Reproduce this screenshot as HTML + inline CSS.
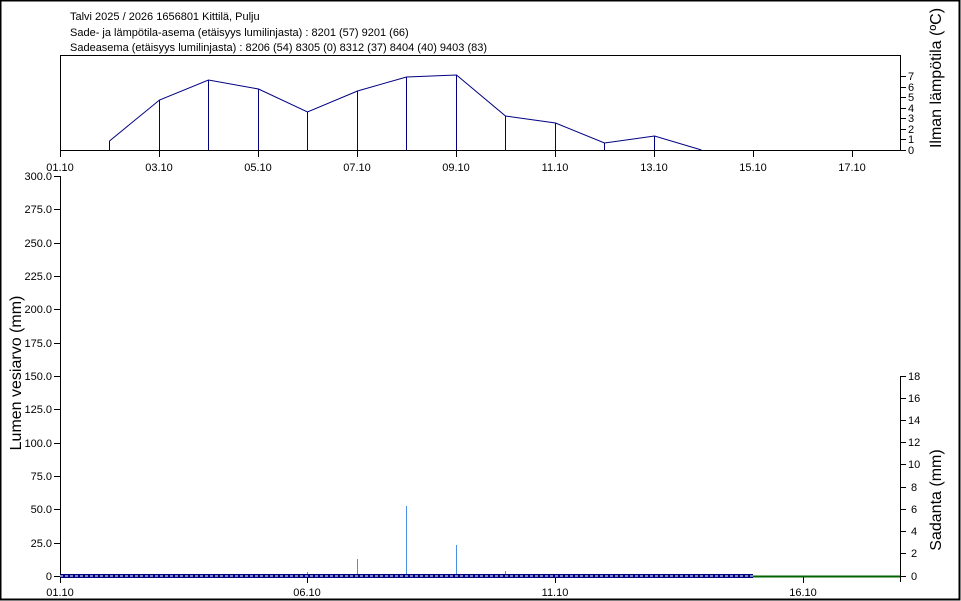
<!DOCTYPE html>
<html><head><meta charset="utf-8"><style>
html,body{margin:0;padding:0;background:#fff}
svg{display:block}
text{font-family:"Liberation Sans",sans-serif;fill:#000}
</style></head><body>
<svg width="961" height="601" viewBox="0 0 961 601" xmlns="http://www.w3.org/2000/svg">
<rect x="0.5" y="0.5" width="959" height="599" fill="#fff" stroke="#000" stroke-width="2"/>
<g font-size="11">
<text x="70" y="20">Talvi 2025 / 2026 1656801 Kittilä, Pulju</text>
<text x="70" y="36">Sade- ja lämpötila-asema (etäisyys lumilinjasta) :  8201 (57) 9201 (66)</text>
<text x="70" y="51">Sadeasema (etäisyys lumilinjasta) :  8206 (54) 8305 (0) 8312 (37) 8404 (40) 9403 (83)</text>
</g>
<!-- top chart -->
<path d="M60.5 150.5V55.5H900.5V150.5" fill="none" stroke="#000"/>
<line x1="60" y1="150.5" x2="906" y2="150.5" stroke="#000"/>
<g stroke="#000">
<line x1="60.5" y1="150" x2="60.5" y2="157"/><line x1="159.5" y1="150" x2="159.5" y2="157"/><line x1="258.5" y1="150" x2="258.5" y2="157"/><line x1="357.5" y1="150" x2="357.5" y2="157"/><line x1="456.5" y1="150" x2="456.5" y2="157"/><line x1="555.5" y1="150" x2="555.5" y2="157"/><line x1="654.5" y1="150" x2="654.5" y2="157"/><line x1="753.5" y1="150" x2="753.5" y2="157"/><line x1="852.5" y1="150" x2="852.5" y2="157"/>
</g>
<g font-size="11" text-anchor="middle">
<text x="60" y="171">01.10</text><text x="159" y="171">03.10</text><text x="258" y="171">05.10</text><text x="357" y="171">07.10</text><text x="456" y="171">09.10</text><text x="555" y="171">11.10</text><text x="654" y="171">13.10</text><text x="753" y="171">15.10</text><text x="852" y="171">17.10</text>
</g>
<g stroke="#000">
<line x1="900" y1="150.5" x2="906" y2="150.5"/><line x1="900" y1="139.5" x2="906" y2="139.5"/><line x1="900" y1="129.5" x2="906" y2="129.5"/><line x1="900" y1="118.5" x2="906" y2="118.5"/><line x1="900" y1="108.5" x2="906" y2="108.5"/><line x1="900" y1="97.5" x2="906" y2="97.5"/><line x1="900" y1="87.5" x2="906" y2="87.5"/><line x1="900" y1="76.5" x2="906" y2="76.5"/>
</g>
<g font-size="11">
<text x="908" y="154">0</text><text x="908" y="143">1</text><text x="908" y="133">2</text><text x="908" y="122">3</text><text x="908" y="112">4</text><text x="908" y="101">5</text><text x="908" y="91">6</text><text x="908" y="80">7</text>
</g>
<text transform="translate(941,78) rotate(-90)" font-size="16" text-anchor="middle">Ilman lämpötila (ºC)</text>
<polyline fill="none" stroke="#000080" points="109.5,141 159.5,100 208.5,80 258.5,89 307.5,112 357.5,91 406.5,77 456.5,75 505.5,116 555.5,123 604.5,143 654.5,136 701.5,150"/>
<g stroke="#000080">
<line x1="109.5" y1="141" x2="109.5" y2="150"/><line x1="159.5" y1="100" x2="159.5" y2="150"/><line x1="208.5" y1="80" x2="208.5" y2="150"/><line x1="258.5" y1="89" x2="258.5" y2="150"/><line x1="307.5" y1="112" x2="307.5" y2="150"/><line x1="357.5" y1="91" x2="357.5" y2="150"/><line x1="406.5" y1="77" x2="406.5" y2="150"/><line x1="456.5" y1="75" x2="456.5" y2="150"/><line x1="505.5" y1="116" x2="505.5" y2="150"/><line x1="555.5" y1="123" x2="555.5" y2="150"/><line x1="604.5" y1="143" x2="604.5" y2="150"/><line x1="654.5" y1="136" x2="654.5" y2="150"/>
</g>
<!-- bottom chart -->
<line x1="60.5" y1="176" x2="60.5" y2="582" stroke="#000"/>
<line x1="900.5" y1="376" x2="900.5" y2="582" stroke="#000"/>
<line x1="60" y1="576.5" x2="900" y2="576.5" stroke="#000"/>
<g stroke="#000">
<line x1="54" y1="176.5" x2="60" y2="176.5"/><line x1="54" y1="209.5" x2="60" y2="209.5"/><line x1="54" y1="243.5" x2="60" y2="243.5"/><line x1="54" y1="276.5" x2="60" y2="276.5"/><line x1="54" y1="309.5" x2="60" y2="309.5"/><line x1="54" y1="343.5" x2="60" y2="343.5"/><line x1="54" y1="376.5" x2="60" y2="376.5"/><line x1="54" y1="409.5" x2="60" y2="409.5"/><line x1="54" y1="443.5" x2="60" y2="443.5"/><line x1="54" y1="476.5" x2="60" y2="476.5"/><line x1="54" y1="509.5" x2="60" y2="509.5"/><line x1="54" y1="543.5" x2="60" y2="543.5"/><line x1="54" y1="576.5" x2="60" y2="576.5"/>
</g>
<g font-size="11" text-anchor="end">
<text x="52" y="180">300.0</text><text x="52" y="213">275.0</text><text x="52" y="247">250.0</text><text x="52" y="280">225.0</text><text x="52" y="313">200.0</text><text x="52" y="347">175.0</text><text x="52" y="380">150.0</text><text x="52" y="413">125.0</text><text x="52" y="447">100.0</text><text x="52" y="480">75.0</text><text x="52" y="513">50.0</text><text x="52" y="547">25.0</text><text x="52" y="580">0</text>
</g>
<text transform="translate(21,373) rotate(-90)" font-size="16" text-anchor="middle">Lumen vesiarvo (mm)</text>
<g stroke="#000">
<line x1="900" y1="576.5" x2="906" y2="576.5"/><line x1="900" y1="553.5" x2="906" y2="553.5"/><line x1="900" y1="531.5" x2="906" y2="531.5"/><line x1="900" y1="509.5" x2="906" y2="509.5"/><line x1="900" y1="487.5" x2="906" y2="487.5"/><line x1="900" y1="464.5" x2="906" y2="464.5"/><line x1="900" y1="442.5" x2="906" y2="442.5"/><line x1="900" y1="420.5" x2="906" y2="420.5"/><line x1="900" y1="398.5" x2="906" y2="398.5"/><line x1="900" y1="376.5" x2="906" y2="376.5"/>
</g>
<g font-size="11">
<text x="911" y="580">0</text><text x="911" y="557">2</text><text x="911" y="535">4</text><text x="911" y="513">6</text><text x="911" y="491">8</text><text x="908" y="468">10</text><text x="908" y="446">12</text><text x="908" y="424">14</text><text x="908" y="402">16</text><text x="908" y="380">18</text>
</g>
<text transform="translate(941,500) rotate(-90)" font-size="16" text-anchor="middle">Sadanta (mm)</text>
<g stroke="#000">
<line x1="60.5" y1="576" x2="60.5" y2="583"/><line x1="307.5" y1="576" x2="307.5" y2="583"/><line x1="555.5" y1="576" x2="555.5" y2="583"/><line x1="803.5" y1="576" x2="803.5" y2="583"/>
</g>
<g font-size="11" text-anchor="middle">
<text x="60" y="596">01.10</text><text x="307" y="596">06.10</text><text x="555" y="596">11.10</text><text x="803" y="596">16.10</text>
</g>
<g stroke="#4a90e2">
<line x1="307.5" y1="572" x2="307.5" y2="576"/><line x1="357.5" y1="559" x2="357.5" y2="576"/><line x1="406.5" y1="506" x2="406.5" y2="576"/><line x1="456.5" y1="545" x2="456.5" y2="576"/><line x1="505.5" y1="571" x2="505.5" y2="576"/>
</g>
<rect x="60" y="574" width="693" height="4" fill="#000080"/>
<line x1="60" y1="576" x2="753" y2="576" stroke="#fff" stroke-dasharray="3,2" stroke-width="1"/>
<line x1="753" y1="576.5" x2="900" y2="576.5" stroke="#006400" stroke-width="2"/>
</svg>
</body></html>
